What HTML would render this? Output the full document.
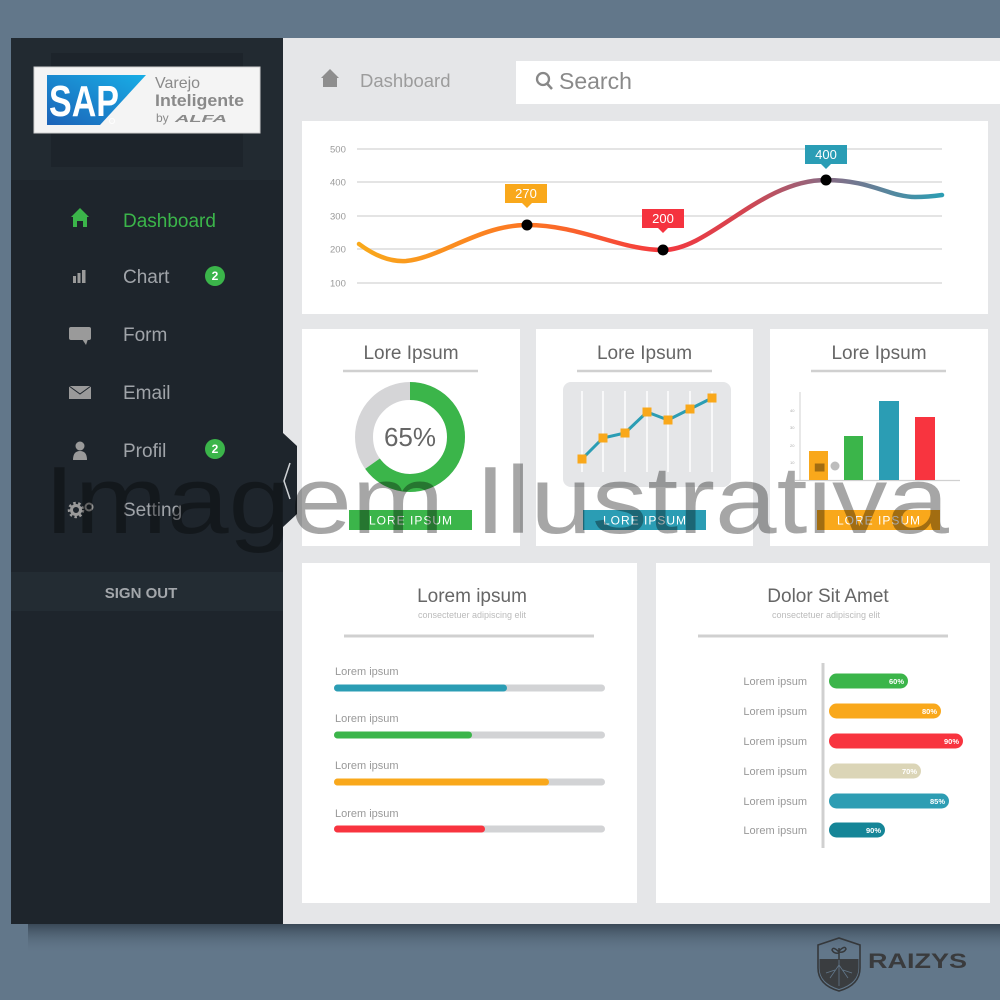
<!DOCTYPE html>
<html>
<head>
<meta charset="utf-8">
<style>
  html,body{margin:0;padding:0;background:#62778a;}
  svg{display:block;}
  text{font-family:"Liberation Sans",sans-serif;}
</style>
</head>
<body>
<svg width="1000" height="1000" viewBox="0 0 1000 1000" xmlns="http://www.w3.org/2000/svg">
  <defs>
    <linearGradient id="shadow" x1="0" y1="0" x2="0" y2="1">
      <stop offset="0" stop-color="#2c3946" stop-opacity="0.75"/>
      <stop offset="1" stop-color="#62778a" stop-opacity="0"/>
    </linearGradient>
    <linearGradient id="sapblue" x1="0" y1="1" x2="1" y2="0">
      <stop offset="0" stop-color="#1c63b8"/>
      <stop offset="1" stop-color="#18aee6"/>
    </linearGradient>
    <linearGradient id="curve" x1="359" y1="0" x2="942" y2="0" gradientUnits="userSpaceOnUse">
      <stop offset="0" stop-color="#f9a91b"/>
      <stop offset="0.3" stop-color="#fc7424"/>
      <stop offset="0.52" stop-color="#f4383f"/>
      <stop offset="0.66" stop-color="#d44450"/>
      <stop offset="0.8" stop-color="#8a6b84"/>
      <stop offset="1" stop-color="#2c9db3"/>
    </linearGradient>
  </defs>

  <!-- background -->
  <rect x="0" y="0" width="1000" height="1000" fill="#62778a"/>
  <rect x="28" y="924" width="972" height="30" fill="url(#shadow)"/>

  <!-- sidebar -->
  <rect x="11" y="38" width="272" height="886" fill="#1e252c"/>
  <rect x="11" y="38" width="272" height="142" fill="#222a31"/>
  <rect x="51" y="53" width="192" height="114" fill="#1d242b"/>

  <!-- logo -->
  <rect x="34" y="67" width="226" height="66" fill="#f4f4f4" stroke="#cfcfcf" stroke-width="1"/>
  <polygon points="47,75 146,75 100,125 47,125" fill="url(#sapblue)"/>
  <text x="49" y="116" font-size="44" font-weight="bold" fill="#ffffff" textLength="70" lengthAdjust="spacingAndGlyphs">SAP</text>
  <circle cx="112" cy="121" r="2.6" fill="none" stroke="#ffffff" stroke-width="0.8"/>
  <text x="155" y="88" font-size="16" fill="#8a8a8a">Varejo</text>
  <text x="155" y="106" font-size="17" font-weight="bold" fill="#8a8a8a" textLength="89" lengthAdjust="spacingAndGlyphs">Inteligente</text>
  <text x="156" y="122" font-size="12" fill="#8a8a8a">by</text>
  <text x="175" y="122" font-size="10" font-weight="bold" font-style="italic" fill="#8a8a8a" textLength="52" lengthAdjust="spacingAndGlyphs">ALFA</text>

  <!-- menu icons -->
  <path d="M71,217 L80,208 L89,217 L87,217 L87,227 L83,227 L83,221 L77,221 L77,227 L73,227 L73,217 Z" fill="#3bb54a"/>
  <rect x="73" y="276" width="3" height="7" fill="#9a9a9a"/>
  <rect x="77.5" y="273" width="3" height="10" fill="#9a9a9a"/>
  <rect x="82" y="270" width="3.5" height="13" fill="#9a9a9a"/>
  <rect x="69" y="327" width="22" height="13" rx="2" fill="#9a9a9a"/>
  <polygon points="82,339 88,339 86,345" fill="#9a9a9a"/>
  <rect x="69" y="386" width="22" height="13" fill="#9a9a9a"/>
  <polyline points="69,386 80,394 91,386" fill="none" stroke="#1e252c" stroke-width="1"/>
  <circle cx="80" cy="446" r="4.5" fill="#9a9a9a"/>
  <path d="M73,460 Q73,451 80,451 Q87,451 87,460 Z" fill="#9a9a9a"/>
  <circle cx="76" cy="510" r="4.5" fill="none" stroke="#9a9a9a" stroke-width="3"/>
  <circle cx="76" cy="510" r="7" fill="none" stroke="#9a9a9a" stroke-width="2.5" stroke-dasharray="2.5 2.5"/>
  <circle cx="89" cy="507" r="3.5" fill="none" stroke="#9a9a9a" stroke-width="2"/>

  <!-- menu text -->
  <text x="123" y="227" font-size="19" fill="#3bb54a">Dashboard</text>
  <text x="123" y="283" font-size="19" fill="#a0a4a9">Chart</text>
  <text x="123" y="341" font-size="19" fill="#a0a4a9">Form</text>
  <text x="123" y="399" font-size="19" fill="#a0a4a9">Email</text>
  <text x="123" y="457" font-size="19" fill="#a0a4a9">Profil</text>
  <text x="123" y="516" font-size="19" fill="#a0a4a9">Setting</text>

  <circle cx="215" cy="276" r="10" fill="#3bb54a"/>
  <text x="215" y="280" font-size="12" font-weight="bold" fill="#ffffff" text-anchor="middle">2</text>
  <circle cx="215" cy="449" r="10" fill="#3bb54a"/>
  <text x="215" y="453" font-size="12" font-weight="bold" fill="#ffffff" text-anchor="middle">2</text>

  <rect x="11" y="572" width="272" height="39" fill="#232c33"/>
  <text x="141" y="598" font-size="15" font-weight="bold" fill="#a3a7ab" text-anchor="middle">SIGN OUT</text>

  <!-- main area -->
  <rect x="283" y="38" width="717" height="886" fill="#e5e6e8"/>
  <!-- tab -->
  <path d="M283,433 L297,446 L297,514 L283,527 Z" fill="#1e252c"/>
  <polyline points="290,463 284,481 290,499" fill="none" stroke="#cfd2d5" stroke-width="1.5"/>

  <!-- header -->
  <path d="M321,78 L330,69 L339,78 L337,78 L337,87 L323,87 L323,78 Z" fill="#8e8e8e"/>
  <text x="360" y="87" font-size="18.5" fill="#9c9c9c">Dashboard</text>
  <rect x="516" y="61" width="484" height="43" fill="#ffffff"/>
  <circle cx="543" cy="79" r="6" fill="none" stroke="#888" stroke-width="2.3"/>
  <line x1="547" y1="83.5" x2="552" y2="89" stroke="#888" stroke-width="2.5"/>
  <text x="559" y="89" font-size="23" fill="#8a8a8a">Search</text>

  <!-- top chart card -->
  <rect x="302" y="121" width="686" height="193" fill="#ffffff"/>
  <g stroke="#dcdcdc" stroke-width="1.5">
    <line x1="357" y1="149" x2="942" y2="149"/>
    <line x1="357" y1="182" x2="942" y2="182"/>
    <line x1="357" y1="216" x2="942" y2="216"/>
    <line x1="357" y1="249" x2="942" y2="249"/>
    <line x1="357" y1="283" x2="942" y2="283"/>
  </g>
  <g font-size="9.5" fill="#9a9a9a">
    <text x="330" y="152.5">500</text>
    <text x="330" y="185.5">400</text>
    <text x="330" y="219.5">300</text>
    <text x="330" y="252.5">200</text>
    <text x="330" y="286.5">100</text>
  </g>
  <path d="M359,244 C375,256 390,262 406,261 C440,258 480,225 527,225 C580,225 620,250 663,250 C710,250 760,180 826,180 C870,180 890,197 915,197 C928,197 935,196 942,195" fill="none" stroke="url(#curve)" stroke-width="4.5" stroke-linecap="round"/>
  <circle cx="527" cy="225" r="5.5" fill="#000"/>
  <circle cx="663" cy="250" r="5.5" fill="#000"/>
  <circle cx="826" cy="180" r="5.5" fill="#000"/>
  <rect x="505" y="184" width="42" height="19" fill="#f9a81b"/>
  <polygon points="522,203 532,203 527,208" fill="#f9a81b"/>
  <text x="526" y="198" font-size="13" fill="#ffffff" text-anchor="middle">270</text>
  <rect x="642" y="209" width="42" height="19" fill="#f5333f"/>
  <polygon points="658,228 668,228 663,233" fill="#f5333f"/>
  <text x="663" y="223" font-size="13" fill="#ffffff" text-anchor="middle">200</text>
  <rect x="805" y="145" width="42" height="19" fill="#2a9db5"/>
  <polygon points="821,164 831,164 826,169" fill="#2a9db5"/>
  <text x="826" y="159" font-size="13" fill="#ffffff" text-anchor="middle">400</text>

  <!-- three cards -->
  <rect x="302" y="329" width="218" height="217" fill="#ffffff"/>
  <rect x="536" y="329" width="217" height="217" fill="#ffffff"/>
  <rect x="770" y="329" width="218" height="217" fill="#ffffff"/>
  <g font-size="19" fill="#666" text-anchor="middle">
    <text x="411" y="359">Lore Ipsum</text>
    <text x="644.5" y="359">Lore Ipsum</text>
    <text x="879" y="359">Lore Ipsum</text>
  </g>
  <g stroke="#d0d0d0" stroke-width="2.5">
    <line x1="343" y1="371" x2="478" y2="371"/>
    <line x1="577" y1="371" x2="712" y2="371"/>
    <line x1="811" y1="371" x2="946" y2="371"/>
  </g>

  <!-- donut -->
  <circle cx="410" cy="437" r="46" fill="none" stroke="#d5d5d7" stroke-width="18"/>
  <circle cx="410" cy="437" r="46" fill="none" stroke="#3bb54a" stroke-width="18" stroke-dasharray="188 300" transform="rotate(-90 410 437)"/>
  <text x="410" y="446" font-size="26" fill="#666" text-anchor="middle">65%</text>

  <!-- line chart -->
  <rect x="563" y="382" width="168" height="105" rx="8" fill="#e5e6e8"/>
  <g stroke="#ffffff" stroke-width="1.5">
    <line x1="582" y1="391" x2="582" y2="472"/>
    <line x1="603" y1="391" x2="603" y2="472"/>
    <line x1="625" y1="391" x2="625" y2="472"/>
    <line x1="647" y1="391" x2="647" y2="472"/>
    <line x1="668" y1="391" x2="668" y2="472"/>
    <line x1="690" y1="391" x2="690" y2="472"/>
    <line x1="712" y1="391" x2="712" y2="472"/>
  </g>
  <polyline points="582,459 603,438 625,433 647,412 668,420 690,409 712,398" fill="none" stroke="#2b9db4" stroke-width="3"/>
  <g fill="#f9a81b">
    <rect x="577.5" y="454.5" width="9" height="9"/>
    <rect x="598.5" y="433.5" width="9" height="9"/>
    <rect x="620.5" y="428.5" width="9" height="9"/>
    <rect x="642.5" y="407.5" width="9" height="9"/>
    <rect x="663.5" y="415.5" width="9" height="9"/>
    <rect x="685.5" y="404.5" width="9" height="9"/>
    <rect x="707.5" y="393.5" width="9" height="9"/>
  </g>

  <!-- bar chart -->
  <line x1="800" y1="392" x2="800" y2="481" stroke="#d0d0d0" stroke-width="1"/>
  <line x1="795" y1="480.5" x2="960" y2="480.5" stroke="#d0d0d0" stroke-width="1.2"/>
  <g font-size="4" fill="#aaa">
    <text x="790" y="412">40</text>
    <text x="790" y="429">30</text>
    <text x="790" y="447">20</text>
    <text x="790" y="464">10</text>
  </g>
  <rect x="809" y="451" width="19" height="29" fill="#f9a81b"/>
  <rect x="844" y="436" width="19" height="44" fill="#3bb54a"/>
  <rect x="879" y="401" width="20" height="79" fill="#2b9db4"/>
  <rect x="915" y="417" width="20" height="63" fill="#f8343f"/>
  <circle cx="835" cy="466" r="4.5" fill="#bdbdbd"/>

  <!-- buttons -->
  <rect x="349" y="510" width="123" height="20" fill="#3bb54a"/>
  <rect x="583" y="510" width="123" height="20" fill="#2b9db4"/>
  <rect x="817" y="510" width="123" height="20" fill="#f9a81b"/>
  <g font-size="12" fill="#ffffff" text-anchor="middle" letter-spacing="1">
    <text x="411" y="524.5">LORE IPSUM</text>
    <text x="645" y="524.5">LORE IPSUM</text>
    <text x="879" y="524.5">LORE IPSUM</text>
  </g>

  <!-- bottom cards -->
  <rect x="302" y="563" width="335" height="340" fill="#ffffff"/>
  <rect x="656" y="563" width="334" height="340" fill="#ffffff"/>

  <text x="472" y="602" font-size="19" fill="#666" text-anchor="middle">Lorem ipsum</text>
  <text x="472" y="618" font-size="9" fill="#bbbbbb" text-anchor="middle">consectetuer adipiscing elit</text>
  <line x1="344" y1="636" x2="594" y2="636" stroke="#d0d0d0" stroke-width="3"/>
  <g font-size="11" fill="#999">
    <text x="335" y="675">Lorem ipsum</text>
    <text x="335" y="722">Lorem ipsum</text>
    <text x="335" y="769">Lorem ipsum</text>
    <text x="335" y="817">Lorem ipsum</text>
  </g>
  <g fill="#d2d3d5">
    <rect x="334" y="684.5" width="271" height="7" rx="3.5"/>
    <rect x="334" y="731.5" width="271" height="7" rx="3.5"/>
    <rect x="334" y="778.5" width="271" height="7" rx="3.5"/>
    <rect x="334" y="825.5" width="271" height="7" rx="3.5"/>
  </g>
  <rect x="334" y="684.5" width="173" height="7" rx="3.5" fill="#2b9db4"/>
  <rect x="334" y="731.5" width="138" height="7" rx="3.5" fill="#3bb54a"/>
  <rect x="334" y="778.5" width="215" height="7" rx="3.5" fill="#f9a81b"/>
  <rect x="334" y="825.5" width="151" height="7" rx="3.5" fill="#f8343f"/>

  <text x="828" y="602" font-size="19" fill="#666" text-anchor="middle">Dolor Sit Amet</text>
  <text x="826" y="618" font-size="9" fill="#bbbbbb" text-anchor="middle">consectetuer adipiscing elit</text>
  <line x1="698" y1="636" x2="948" y2="636" stroke="#d0d0d0" stroke-width="3"/>
  <line x1="823" y1="663" x2="823" y2="848" stroke="#d0d0d0" stroke-width="3"/>
  <g font-size="11" fill="#999" text-anchor="end">
    <text x="807" y="685">Lorem ipsum</text>
    <text x="807" y="715">Lorem ipsum</text>
    <text x="807" y="745">Lorem ipsum</text>
    <text x="807" y="775">Lorem ipsum</text>
    <text x="807" y="805">Lorem ipsum</text>
    <text x="807" y="834">Lorem ipsum</text>
  </g>
  <rect x="829" y="673.5" width="79" height="15" rx="7.5" fill="#3bb54a"/>
  <rect x="829" y="703.5" width="112" height="15" rx="7.5" fill="#f9a81b"/>
  <rect x="829" y="733.5" width="134" height="15" rx="7.5" fill="#f8343f"/>
  <rect x="829" y="763.5" width="92" height="15" rx="7.5" fill="#dbd5b7"/>
  <rect x="829" y="793.5" width="120" height="15" rx="7.5" fill="#2d9db3"/>
  <rect x="829" y="822.5" width="56" height="15" rx="7.5" fill="#158597"/>
  <g font-size="7.5" font-weight="bold" fill="#ffffff" text-anchor="end">
    <text x="904" y="684">60%</text>
    <text x="937" y="714">80%</text>
    <text x="959" y="744">90%</text>
    <text x="917" y="774">70%</text>
    <text x="945" y="804">85%</text>
    <text x="881" y="833">90%</text>
  </g>

  <!-- watermark -->
  <text x="44" y="533" font-size="96" fill="#000000" fill-opacity="0.35" textLength="905" lengthAdjust="spacingAndGlyphs">Imagem Ilustrativa</text>

  <!-- RAIZYS logo -->
  <path d="M818,945 L839,938 L860,945 L860,968 Q860,985 839,991 Q818,985 818,968 Z" fill="none" stroke="#35383b" stroke-width="1.6"/>
  <path d="M819.5,959 L858.5,959 L858.5,968 Q858.5,983 839,989 Q819.5,983 819.5,968 Z" fill="#3a3d40"/>
  <path d="M839,959 L839,948 M839,952 Q833,946 832,950 Q834,954 839,953 M839,951 Q845,945 846,949 Q844,953 839,952" fill="none" stroke="#35383b" stroke-width="1.5"/>
  <g stroke="#62778a" stroke-width="0.8" fill="none">
    <path d="M839,960 L839,986 M839,965 L830,978 M839,965 L848,978 M835,970 L826,973 M843,970 L852,973"/>
  </g>
  <text x="868" y="968" font-size="21" font-weight="bold" fill="#3a3b3d" textLength="99" lengthAdjust="spacingAndGlyphs">RAIZYS</text>
</svg>
</body>
</html>
